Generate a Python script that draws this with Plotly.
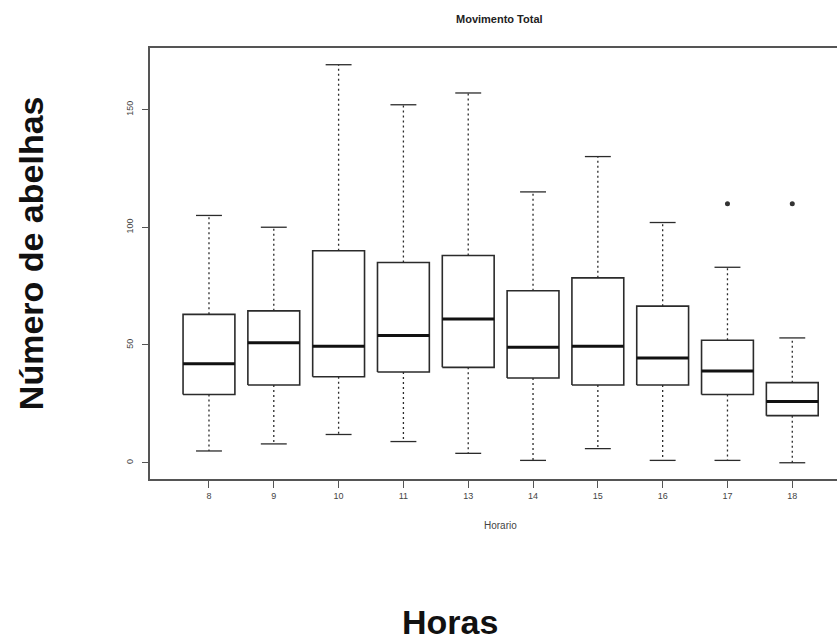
import plotly.graph_objects as go

# ---- data ----
horas = ["8", "9", "10", "11", "13", "14", "15", "16", "17", "18"]
lower_whisker = [5, 8, 12, 9, 4, 1, 6, 1, 1, 0]
q1 = [29, 33, 36.5, 38.5, 40.5, 36, 33, 33, 29, 20]
median = [42, 51, 49.5, 54, 61, 49, 49.5, 44.5, 39, 26]
q3 = [63, 64.5, 90, 85, 88, 73, 78.5, 66.5, 52, 34]
upper_whisker = [105, 100, 169, 152, 157, 115, 130, 102, 83, 53]
outlier_group = ["17", "18"]
outlier_value = [110, 110]

y_ticks = [0, 50, 100, 150]

LINE = "#2b2b2b"
BOXW = 0.4   # half box width (R boxwex 0.8)
CAPW = 0.2   # half staple width (staplewex 0.5)

pos = list(range(1, len(horas) + 1))

fig = go.Figure()

for i, p in enumerate(pos):
    # box rectangle
    fig.add_trace(go.Scatter(
        x=[p - BOXW, p + BOXW, p + BOXW, p - BOXW, p - BOXW],
        y=[q1[i], q1[i], q3[i], q3[i], q1[i]],
        mode="lines", line=dict(color=LINE, width=1.6),
        hoverinfo="skip", showlegend=False))
    # median
    fig.add_trace(go.Scatter(
        x=[p - BOXW, p + BOXW], y=[median[i], median[i]],
        mode="lines", line=dict(color="#111111", width=3),
        hoverinfo="skip", showlegend=False))
    # whiskers (dashed)
    fig.add_trace(go.Scatter(
        x=[p, p, None, p, p],
        y=[q3[i], upper_whisker[i], None, q1[i], lower_whisker[i]],
        mode="lines", line=dict(color=LINE, width=1.3, dash="2px,3px"),
        hoverinfo="skip", showlegend=False))
    # staples
    fig.add_trace(go.Scatter(
        x=[p - CAPW, p + CAPW, None, p - CAPW, p + CAPW],
        y=[upper_whisker[i], upper_whisker[i], None, lower_whisker[i], lower_whisker[i]],
        mode="lines", line=dict(color=LINE, width=1.3),
        hoverinfo="skip", showlegend=False))

# outliers
fig.add_trace(go.Scatter(
    x=[pos[horas.index(g)] for g in outlier_group], y=outlier_value,
    mode="markers", marker=dict(color="#333333", size=5, symbol="circle"),
    hoverinfo="skip", showlegend=False))

axis_font = dict(family="Liberation Sans, Arial, sans-serif", size=9, color="#444444")

fig.update_layout(
    width=837, height=640,
    margin=dict(l=150, r=0, t=48, b=161),
    plot_bgcolor="white", paper_bgcolor="white",
    font=dict(family="Liberation Sans, Arial, sans-serif"),
    xaxis=dict(
        range=[0.09, 10.69], tickmode="array", tickvals=pos, ticktext=horas,
        showgrid=False, zeroline=False, showline=True, mirror=True,
        linecolor="#555555", linewidth=1.5,
        ticks="outside", ticklen=7, tickcolor="#555555", tickwidth=1.3,
        tickfont=axis_font),
    yaxis=dict(
        range=[-6.9, 176.1], tickmode="array", tickvals=y_ticks,
        ticktext=[str(v) for v in y_ticks], tickangle=-90,
        showgrid=False, zeroline=False, showline=True, mirror=False,
        linecolor="#555555", linewidth=1.5,
        ticks="outside", ticklen=6, tickcolor="#555555", tickwidth=1.3,
        ticklabelstandoff=6,
        tickfont=axis_font),
)

annotations = [
    dict(text="<b>Movimento Total</b>", x=0.509, y=1.067, xref="paper", yref="paper",
         showarrow=False, xanchor="center", yanchor="middle",
         font=dict(size=11, color="#222222")),
    dict(text="Horario", x=0.5095, y=-0.107, xref="paper", yref="paper",
         showarrow=False, xanchor="center", yanchor="middle",
         font=dict(size=10, color="#444444")),
    dict(text="<b>Horas</b>", x=0.4367, y=-0.3316, xref="paper", yref="paper",
         showarrow=False, xanchor="center", yanchor="middle",
         font=dict(size=34, color="#111111")),
    dict(text="<b>Número de abelhas</b>", x=-0.1732, y=0.524, xref="paper", yref="paper",
         showarrow=False, xanchor="center", yanchor="middle", textangle=-90,
         font=dict(size=34, color="#111111")),
]
fig.update_layout(annotations=annotations)

fig.write_html("out.html")
